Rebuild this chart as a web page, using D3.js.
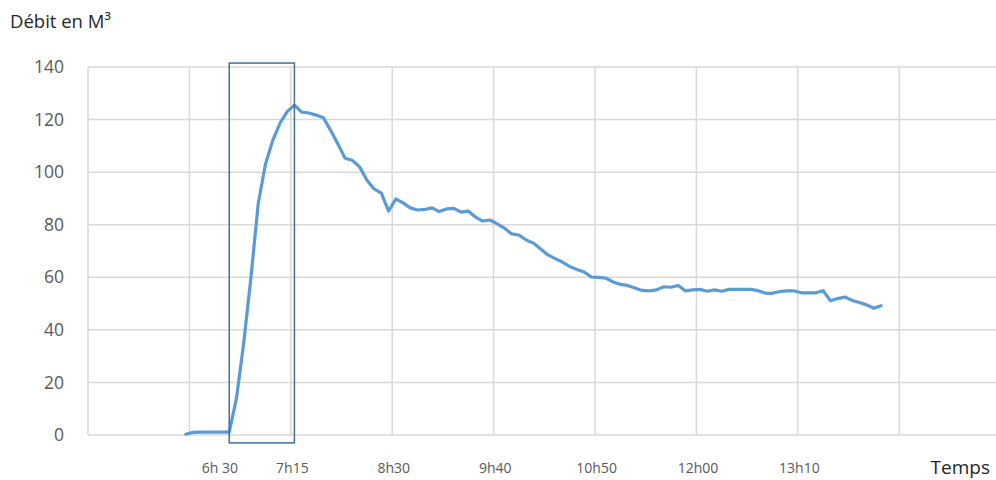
<!DOCTYPE html>
<html>
<head>
<meta charset="utf-8">
<script src="https://cdn.jsdelivr.net/npm/d3@7"></script>
<style>
  html, body { margin: 0; padding: 0; background: #fff; }
  svg { display: block; }
  text { font-family: "Open Sans", "Noto Sans", sans-serif; }
</style>
</head>
<body>
<svg id="chart" width="996" height="480"></svg>
<script>
// ---- data ----
const times = ["6h05","6h10","6h15","6h20","6h25","6h30","6h35","6h40","6h45","6h50","6h55",
  "7h00","7h05","7h10","7h15","7h20","7h25","7h30","7h35","7h40","7h45","7h50","7h55",
  "8h00","8h05","8h10","8h15","8h20","8h25","8h30","8h35","8h40","8h45","8h50","8h55",
  "9h00","9h05","9h10","9h15","9h20","9h25","9h30","9h35","9h40","9h45","9h50","9h55",
  "10h00","10h05","10h10","10h15","10h20","10h25","10h30","10h35","10h40","10h45","10h50","10h55",
  "11h00","11h05","11h10","11h15","11h20","11h25","11h30","11h35","11h40","11h45","11h50","11h55",
  "12h00","12h05","12h10","12h15","12h20","12h25","12h30","12h35","12h40","12h45","12h50","12h55",
  "13h00","13h05","13h10","13h15","13h20","13h25","13h30","13h35","13h40","13h45","13h50","13h55",
  "14h00","14h05"];
const debit = [0.3,1,1.1,1.1,1.1,1.1,1.1,14,35,60,88,
  103,112,118.6,123,125.5,122.8,122.5,121.7,120.7,115.9,110.7,105.3,
  104.5,102,97,93.6,92,85.2,89.8,88.3,86.4,85.6,85.8,86.4,
  85,86,86.2,84.8,85.2,82.9,81.4,81.8,80.3,78.7,76.5,76.1,
  74.2,73,70.8,68.5,67.1,65.8,64.1,63,62,60.1,60,59.7,
  58.2,57.3,56.9,55.9,55,54.8,55.2,56.4,56.2,56.9,54.8,55.2,
  55.4,54.7,55.2,54.7,55.4,55.4,55.4,55.4,54.9,54,53.9,54.6,
  54.8,54.8,54.1,54.1,54.1,54.9,51.1,51.9,52.5,51.2,50.4,49.5,
  48.2,49.2];
const xTickLabels = ["6h 30","7h15","8h30","9h40","10h50","12h00","13h10"];
const xTickSlots  = ["6h30","7h20","8h30","9h40","10h50","12h00","13h10"];
const yTicks = [0,20,40,60,80,100,120,140];
const axisStart = "5h00", axisEnd = "15h25", slotMinutes = 5, gridEvery = 14;
const highlight = { from: "6h35", to: "7h20", top: 141.5, bottom: -3 };
const yTitle = "Débit en M³", xTitle = "Temps";

// ---- helpers ----
const toMin = s => { const [h, m] = s.split("h").map(Number); return h * 60 + m; };
const toLabel = m => Math.floor(m / 60) + "h" + String(m % 60).padStart(2, "0");
const slots = d3.range(toMin(axisStart), toMin(axisEnd) + 1, slotMinutes).map(toLabel);

// ---- layout ----
const svg = d3.select("#chart");
const pL = 88, pR = 1000.6, pT = 67, pB = 435;

const x = d3.scaleBand().domain(slots).range([pL, pR]).padding(0);
const xc = s => x(s) + x.bandwidth() / 2;
const y = d3.scaleLinear().domain([0, 140]).range([pB, pT]);

// grid
const gridColor = "#d9d9d9";
svg.append("g").selectAll("line").data(yTicks).join("line")
  .attr("x1", pL).attr("x2", 996)
  .attr("y1", d => y(d)).attr("y2", d => y(d))
  .attr("stroke", gridColor).attr("stroke-width", 1.5);
const vSlots = slots.filter((s, i) => i % gridEvery === 0);
svg.append("g").selectAll("line").data(vSlots).join("line")
  .attr("x1", d => x(d)).attr("x2", d => x(d))
  .attr("y1", y(140)).attr("y2", y(0))
  .attr("stroke", gridColor).attr("stroke-width", 1.5);

// y tick labels
svg.append("g").selectAll("text").data(yTicks).join("text")
  .attr("x", 64).attr("y", d => y(d)).attr("dy", "0.35em")
  .attr("text-anchor", "end").attr("fill", "#595959")
  .style("font-size", "17.5px").text(d => d);

// x tick labels
svg.append("g").selectAll("text").data(xTickLabels).join("text")
  .attr("x", (d, i) => xc(xTickSlots[i]) - 2).attr("y", 473)
  .attr("text-anchor", "middle").attr("fill", "#595959")
  .style("font-size", "14px").text(d => d);

// titles
svg.append("text").attr("x", 10).attr("y", 28).attr("fill", "#262626")
  .style("font-size", "18.5px").text(yTitle);
svg.append("text").attr("x", 990).attr("y", 474).attr("text-anchor", "end")
  .attr("fill", "#262626").style("font-size", "19px").text(xTitle);

// line
const pts = times.map((t, i) => ({ t, v: debit[i] }));
svg.append("path").datum(pts)
  .attr("fill", "none").attr("stroke", "#5b9bd5").attr("stroke-width", 3.2)
  .attr("stroke-linejoin", "round").attr("stroke-linecap", "round")
  .attr("d", d3.line().x(d => xc(d.t)).y(d => y(d.v)));

// highlight rectangle
svg.append("rect")
  .attr("x", xc(highlight.from))
  .attr("y", y(highlight.top))
  .attr("width", xc(highlight.to) - xc(highlight.from))
  .attr("height", y(highlight.bottom) - y(highlight.top))
  .attr("fill", "none").attr("stroke", "#41719c").attr("stroke-width", 1.5);
</script>
</body>
</html>
